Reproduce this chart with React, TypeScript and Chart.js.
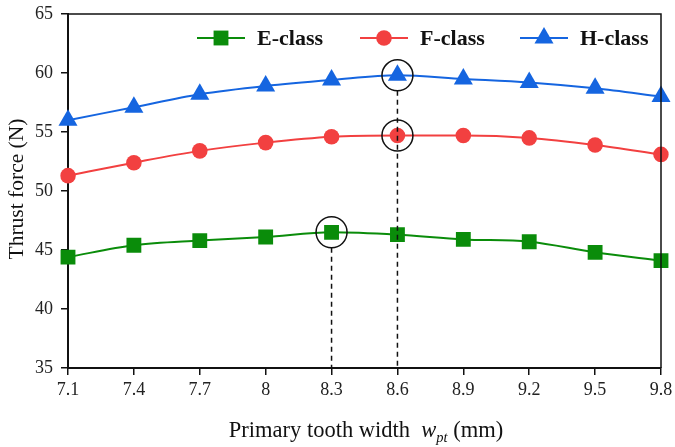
import React, { useEffect, useRef } from "react";
import { Chart, registerables } from "chart.js";

Chart.register(...registerables);

const categories = ["7.1", "7.4", "7.7", "8", "8.3", "8.6", "8.9", "9.2", "9.5", "9.8"];
const eClass = [44.4, 45.4, 45.8, 46.1, 46.5, 46.3, 45.9, 45.7, 44.8, 44.1];
const fClass = [51.3, 52.4, 53.4, 54.1, 54.6, 54.7, 54.7, 54.5, 53.9, 53.1];
const hClass = [56.0, 57.1, 58.2, 58.9, 59.4, 59.8, 59.5, 59.2, 58.7, 58.0];
const yTicks = [35, 40, 45, 50, 55, 60, 65];
// highlighted optima: [dataset index, category index]
const highlights: [number, number][] = [[0, 4], [1, 5], [2, 5]];
const dropLines: [number, number][] = [[0, 4], [2, 5]];

const seriesNames = ["E-class", "F-class", "H-class"];
const colors = ["#0a8c0a", "#f24040", "#1565e0"];
const pointStyles = ["rect", "circle", "triangle"];
const pointRadii = [10.5, 7.8, 11];

const SERIF = "'Liberation Serif', 'DejaVu Serif', serif";

function drawMarker(ctx: CanvasRenderingContext2D, style: string, r: number, x: number, y: number) {
  ctx.beginPath();
  if (style === "rect") {
    const s = r * Math.SQRT1_2;
    ctx.rect(x - s, y - s, 2 * s, 2 * s);
  } else if (style === "circle") {
    ctx.arc(x, y, r, 0, Math.PI * 2);
  } else {
    const h = r * 1.5;
    const w = r * Math.sqrt(3) / 2;
    ctx.moveTo(x, y - r);
    ctx.lineTo(x + w, y - r + h);
    ctx.lineTo(x - w, y - r + h);
    ctx.closePath();
  }
  ctx.fill();
}

const overlayPlugin = {
  id: "overlay",
  afterDatasetsDraw(chart: any) {
    const { ctx, chartArea, scales } = chart;
    const xs = scales.x;
    const ys = scales.y;
    ctx.save();
    // frame top/right
    ctx.strokeStyle = "#111";
    ctx.lineWidth = 1.5;
    ctx.beginPath();
    ctx.moveTo(chartArea.left, chartArea.top);
    ctx.lineTo(chartArea.right, chartArea.top);
    ctx.lineTo(chartArea.right, chartArea.bottom);
    ctx.stroke();

    // highlight circles
    const R = 15.5;
    ctx.lineWidth = 1.5;
    highlights.forEach(([d, i]) => {
      const data = chart.data.datasets[d].data as number[];
      const px = xs.getPixelForValue(i);
      const py = ys.getPixelForValue(data[i]);
      ctx.beginPath();
      ctx.arc(px, py, R, 0, Math.PI * 2);
      ctx.stroke();
    });
    // dashed drop lines
    ctx.setLineDash([5, 4]);
    dropLines.forEach(([d, i]) => {
      const data = chart.data.datasets[d].data as number[];
      const px = xs.getPixelForValue(i);
      const py = ys.getPixelForValue(data[i]);
      ctx.beginPath();
      ctx.moveTo(px, py + R);
      ctx.lineTo(px, chartArea.bottom);
      ctx.stroke();
    });
    ctx.setLineDash([]);

    // legend
    const legendX = [197, 360, 520];
    const ly = 38;
    seriesNames.forEach((name, k) => {
      const x0 = legendX[k];
      ctx.strokeStyle = colors[k];
      ctx.lineWidth = 2;
      ctx.beginPath();
      ctx.moveTo(x0, ly);
      ctx.lineTo(x0 + 48, ly);
      ctx.stroke();
      ctx.fillStyle = colors[k];
      drawMarker(ctx, pointStyles[k], pointRadii[k], x0 + 24, ly);
      ctx.fillStyle = "#111";
      ctx.font = `bold 22px ${SERIF}`;
      ctx.textAlign = "left";
      ctx.textBaseline = "middle";
      ctx.fillText(name, x0 + 60, ly + 1);
    });

    // x-axis title
    ctx.fillStyle = "#111";
    ctx.textBaseline = "alphabetic";
    const p1 = "Primary tooth width  ";
    const p2 = "w";
    const p3 = "pt";
    const p4 = " (mm)";
    const f1 = `22.5px ${SERIF}`;
    const f2 = `italic 22.5px ${SERIF}`;
    const f3 = `italic 14.5px ${SERIF}`;
    ctx.font = f1;
    const w1 = ctx.measureText(p1).width;
    const w4 = ctx.measureText(p4).width;
    ctx.font = f2;
    const w2 = ctx.measureText(p2).width;
    ctx.font = f3;
    const w3 = ctx.measureText(p3).width;
    const total = w1 + w2 + w3 + w4;
    const cx = 366;
    let x = cx - total / 2;
    const by = 437;
    ctx.font = f1; ctx.fillText(p1, x, by); x += w1;
    ctx.font = f2; ctx.fillText(p2, x, by); x += w2;
    ctx.font = f3; ctx.fillText(p3, x, by + 5); x += w3;
    ctx.font = f1; ctx.fillText(p4, x, by);

    // y-axis title
    ctx.save();
    ctx.translate(17, 189);
    ctx.rotate(-Math.PI / 2);
    ctx.textAlign = "center";
    ctx.textBaseline = "middle";
    ctx.font = `21.5px ${SERIF}`;
    ctx.fillText("Thrust force (N)", 0, 0);
    ctx.restore();

    ctx.restore();
  },
};

export default function App() {
  const ref = useRef<HTMLCanvasElement>(null);
  useEffect(() => {
    document.body.style.margin = "0";
    const mk = (k: number, data: number[]) => ({
      label: seriesNames[k],
      data,
      borderColor: colors[k],
      backgroundColor: colors[k],
      borderWidth: 2,
      pointStyle: pointStyles[k],
      pointRadius: pointRadii[k],
      pointBorderWidth: 0,
      pointBackgroundColor: colors[k],
      pointBorderColor: colors[k],
      cubicInterpolationMode: "monotone" as const,
      fill: false,
    });
    const chart = new Chart(ref.current!, {
      type: "line",
      data: {
        labels: categories,
        datasets: [mk(0, eClass), mk(1, fClass), mk(2, hClass)],
      },
      options: {
        animation: false,
        responsive: false,
        devicePixelRatio: 1,
        layout: { padding: { left: 0, top: 14, right: 14, bottom: 0 } },
        plugins: { legend: { display: false }, tooltip: { enabled: false } },
        scales: {
          x: {
            type: "category",
            offset: false,
            grid: { display: true, drawOnChartArea: false, drawTicks: true, tickLength: 7, color: "#111", lineWidth: 1.5 },
            border: { display: true, color: "#111", width: 2 },
            ticks: { color: "#222", font: { family: SERIF, size: 18 }, padding: 4, maxRotation: 0, autoSkip: false },
            afterFit: (s: any) => { s.height = 79; s.paddingLeft = 0; s.paddingRight = 0; },
          },
          y: {
            min: 35,
            max: 65,
            afterBuildTicks: (s: any) => { s.ticks = yTicks.map((v) => ({ value: v })); },
            grid: { display: true, drawOnChartArea: false, drawTicks: true, tickLength: 7, color: "#111", lineWidth: 1.5 },
            border: { display: true, color: "#111", width: 2 },
            ticks: { color: "#222", font: { family: SERIF, size: 18 }, padding: 8 },
            afterFit: (s: any) => { s.width = 68; s.paddingTop = 0; s.paddingBottom = 0; },
          },
        },
      },
      plugins: [overlayPlugin],
    });
    return () => chart.destroy();
  }, []);
  return (
    <div style={{ width: 675, height: 447, background: "#fff" }}>
      <canvas ref={ref} width={675} height={447} style={{ display: "block" }} />
    </div>
  );
}
